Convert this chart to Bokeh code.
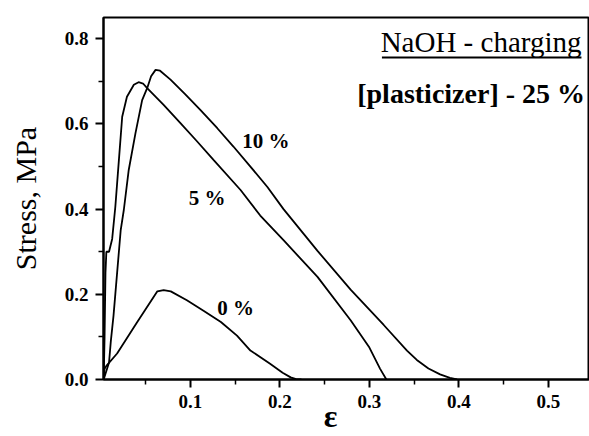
from bokeh.plotting import figure
from bokeh.models import FixedTicker, NumeralTickFormatter, Label, Range1d
from bokeh.embed import file_html
from bokeh.resources import INLINE

# ---- data ----
strain_0 = [0.003, 0.004, 0.006, 0.018, 0.040, 0.063, 0.070, 0.078, 0.096, 0.115,
            0.134, 0.152, 0.167, 0.189, 0.203, 0.212, 0.218, 0.224]
stress_0 = [0.0, 0.025, 0.032, 0.061, 0.133, 0.207, 0.210, 0.207, 0.186, 0.161,
            0.135, 0.103, 0.068, 0.037, 0.016, 0.005, 0.001, 0.0]

strain_5 = [0.003, 0.004, 0.005, 0.006, 0.009, 0.0125, 0.016, 0.020, 0.0237, 0.029,
            0.0367, 0.042, 0.047, 0.0516, 0.070, 0.0888, 0.107, 0.126, 0.156, 0.178,
            0.204, 0.242, 0.279, 0.300, 0.312, 0.319]
stress_5 = [0.0, 0.10, 0.25, 0.30, 0.30, 0.33, 0.405, 0.515, 0.617, 0.664,
            0.692, 0.698, 0.695, 0.684, 0.645, 0.602, 0.560, 0.515, 0.445, 0.385,
            0.327, 0.241, 0.139, 0.075, 0.025, 0.0]

strain_10 = [0.003, 0.006, 0.009, 0.011, 0.014, 0.016, 0.020, 0.022, 0.0255, 0.031,
             0.0385, 0.046, 0.0516, 0.056, 0.061, 0.066, 0.0777, 0.094, 0.111, 0.130,
             0.148, 0.167, 0.186, 0.204, 0.242, 0.279, 0.316, 0.342, 0.353, 0.366,
             0.379, 0.390, 0.398]
stress_10 = [0.0, 0.02, 0.04, 0.09, 0.15, 0.20, 0.30, 0.35, 0.398, 0.492,
             0.578, 0.656, 0.684, 0.712, 0.727, 0.725, 0.704, 0.670, 0.633, 0.590,
             0.547, 0.500, 0.452, 0.400, 0.302, 0.211, 0.128, 0.068, 0.046, 0.026,
             0.012, 0.004, 0.0]

series_labels = ["0 %", "5 %", "10 %"]
label_x = [0.130, 0.098, 0.158]
label_y = [0.168, 0.426, 0.561]

x_major = [0.1, 0.2, 0.3, 0.4, 0.5]
x_minor = [0.05, 0.15, 0.25, 0.35, 0.45]
y_major = [0.0, 0.2, 0.4, 0.6, 0.8]
y_minor = [0.1, 0.3, 0.5, 0.7]

title_1 = "NaOH - charging"
title_2 = "[plasticizer] - 25 %"
title_1_x = 0.537
title_2_x = 0.541
title_1_y = 0.793
title_2_y = 0.672
underline_x = [0.314, 0.537]
underline_y = 0.756

FONT = "Liberation Serif"

p = figure(width=589, height=436,
           min_border_left=103, min_border_right=0, min_border_top=17, min_border_bottom=57,
           x_range=Range1d(0.0028, 0.546), y_range=Range1d(0.0, 0.85),
           output_backend="svg", toolbar_location=None)

p.background_fill_color = "white"
p.border_fill_color = "white"
p.outline_line_color = "black"
p.outline_line_width = 2
p.xgrid.visible = False
p.ygrid.visible = False

for ax in (p.xaxis[0], p.yaxis[0]):
    ax.axis_line_width = 2
    ax.axis_line_color = "black"
    ax.major_tick_line_width = 2
    ax.major_tick_line_color = "black"
    ax.minor_tick_line_width = 1.5
    ax.minor_tick_line_color = "black"
    ax.major_tick_in = 0
    ax.major_tick_out = 8
    ax.minor_tick_in = 0
    ax.minor_tick_out = 5
    ax.major_label_text_font = FONT
    ax.major_label_text_font_style = "bold"
    ax.major_label_text_font_size = "19px"
    ax.major_label_text_color = "black"
    ax.formatter = NumeralTickFormatter(format="0.0")

p.xaxis[0].ticker = FixedTicker(ticks=x_major, minor_ticks=x_minor)
p.yaxis[0].ticker = FixedTicker(ticks=y_major, minor_ticks=y_minor)
p.xaxis[0].major_label_standoff = 7
p.yaxis[0].major_label_standoff = 7

p.yaxis[0].axis_label = "Stress, MPa"
p.yaxis[0].axis_label_text_font = FONT
p.yaxis[0].axis_label_text_font_style = "normal"
p.yaxis[0].axis_label_text_font_size = "30px"
p.yaxis[0].axis_label_text_color = "black"
p.yaxis[0].axis_label_standoff = 20

# x-axis label: epsilon, nudged left of centre with trailing no-break spaces
p.xaxis[0].axis_label = "ε" + "\u00a0" * 4
p.xaxis[0].axis_label_text_font = FONT
p.xaxis[0].axis_label_text_font_style = "bold"
p.xaxis[0].axis_label_text_font_size = "32px"
p.xaxis[0].axis_label_text_color = "black"
p.xaxis[0].axis_label_standoff = -13

for xs, ys in ((strain_0, stress_0), (strain_5, stress_5), (strain_10, stress_10)):
    p.line(xs, ys, line_color="black", line_width=1.8)

for t, lx, ly in zip(series_labels, label_x, label_y):
    p.add_layout(Label(x=lx, y=ly, text=t, text_font=FONT, text_font_style="bold",
                       text_font_size="21px", text_color="black",
                       text_baseline="middle", text_align="left"))

p.add_layout(Label(x=title_1_x, y=title_1_y, text=title_1, text_font=FONT,
                   text_font_style="normal", text_font_size="29px", text_color="black",
                   text_align="right", text_baseline="alphabetic"))
p.add_layout(Label(x=title_2_x, y=title_2_y, text=title_2, text_font=FONT,
                   text_font_style="bold", text_font_size="28px", text_color="black",
                   text_align="right", text_baseline="alphabetic"))
p.line(underline_x, [underline_y, underline_y], line_color="black", line_width=2)

open("out.html", "w").write(file_html(p, INLINE))
